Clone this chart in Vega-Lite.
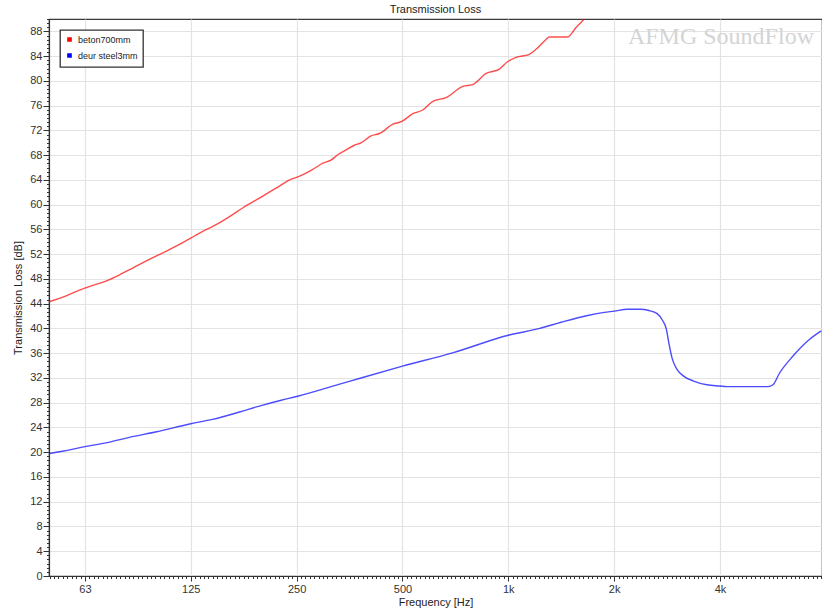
{
  "$schema": "https://vega.github.io/schema/vega-lite/v6.json",
  "width": 773,
  "height": 557,
  "autosize": {"type": "none"},
  "padding": {"left": 49, "top": 19, "right": 0, "bottom": 37},
  "background": "white",
  "title": {"text": "Transmission Loss", "font": "Liberation Sans", "fontSize": 11, "fontWeight": "normal", "color": "#222222", "anchor": "middle", "offset": 4},
  "config": {
    "view": {"stroke": "#3a3a3a", "strokeWidth": 1.2},
    "legend": {"strokeWidth": 1.3}
  },
  "datasets": {
    "tl": [
      {"series": "beton700mm", "f": 49.4, "db": 44.3},
      {"series": "beton700mm", "f": 55.5, "db": 45.3},
      {"series": "beton700mm", "f": 59.2, "db": 46.0},
      {"series": "beton700mm", "f": 64.6, "db": 46.8},
      {"series": "beton700mm", "f": 72.0, "db": 47.7},
      {"series": "beton700mm", "f": 78.6, "db": 48.7},
      {"series": "beton700mm", "f": 85.7, "db": 49.8},
      {"series": "beton700mm", "f": 95.6, "db": 51.2},
      {"series": "beton700mm", "f": 106.6, "db": 52.5},
      {"series": "beton700mm", "f": 118.9, "db": 53.9},
      {"series": "beton700mm", "f": 125, "db": 54.6},
      {"series": "beton700mm", "f": 138.6, "db": 56.0},
      {"series": "beton700mm", "f": 148, "db": 56.8},
      {"series": "beton700mm", "f": 161.5, "db": 58.1},
      {"series": "beton700mm", "f": 176, "db": 59.5},
      {"series": "beton700mm", "f": 196.5, "db": 61.1},
      {"series": "beton700mm", "f": 219, "db": 62.7},
      {"series": "beton700mm", "f": 239, "db": 64.0},
      {"series": "beton700mm", "f": 255, "db": 64.6},
      {"series": "beton700mm", "f": 278, "db": 65.7},
      {"series": "beton700mm", "f": 297, "db": 66.7},
      {"series": "beton700mm", "f": 313, "db": 67.2},
      {"series": "beton700mm", "f": 328, "db": 68.1},
      {"series": "beton700mm", "f": 342, "db": 68.7},
      {"series": "beton700mm", "f": 365, "db": 69.6},
      {"series": "beton700mm", "f": 381, "db": 70.0},
      {"series": "beton700mm", "f": 407, "db": 71.1},
      {"series": "beton700mm", "f": 430, "db": 71.5},
      {"series": "beton700mm", "f": 470, "db": 73.0},
      {"series": "beton700mm", "f": 496, "db": 73.4},
      {"series": "beton700mm", "f": 535, "db": 74.7},
      {"series": "beton700mm", "f": 571, "db": 75.3},
      {"series": "beton700mm", "f": 610, "db": 76.7},
      {"series": "beton700mm", "f": 665, "db": 77.3},
      {"series": "beton700mm", "f": 742, "db": 79.1},
      {"series": "beton700mm", "f": 792, "db": 79.4},
      {"series": "beton700mm", "f": 865, "db": 81.2},
      {"series": "beton700mm", "f": 943, "db": 81.9},
      {"series": "beton700mm", "f": 995, "db": 83.1},
      {"series": "beton700mm", "f": 1052, "db": 83.8},
      {"series": "beton700mm", "f": 1147, "db": 84.3},
      {"series": "beton700mm", "f": 1199, "db": 85.1},
      {"series": "beton700mm", "f": 1280, "db": 86.7},
      {"series": "beton700mm", "f": 1307, "db": 87.1},
      {"series": "beton700mm", "f": 1474, "db": 87.1},
      {"series": "beton700mm", "f": 1556, "db": 88.6},
      {"series": "beton700mm", "f": 1644, "db": 90.0},
      {"series": "beton700mm", "f": 1700, "db": 91.0},
      {"series": "deur steel3mm", "f": 49.4, "db": 19.8},
      {"series": "deur steel3mm", "f": 54.4, "db": 20.2},
      {"series": "deur steel3mm", "f": 62.5, "db": 20.9},
      {"series": "deur steel3mm", "f": 73, "db": 21.6},
      {"series": "deur steel3mm", "f": 83.6, "db": 22.4},
      {"series": "deur steel3mm", "f": 100, "db": 23.3},
      {"series": "deur steel3mm", "f": 125, "db": 24.6},
      {"series": "deur steel3mm", "f": 144, "db": 25.3},
      {"series": "deur steel3mm", "f": 172, "db": 26.5},
      {"series": "deur steel3mm", "f": 197, "db": 27.5},
      {"series": "deur steel3mm", "f": 226, "db": 28.4},
      {"series": "deur steel3mm", "f": 250, "db": 29.0},
      {"series": "deur steel3mm", "f": 355, "db": 31.5},
      {"series": "deur steel3mm", "f": 500, "db": 33.9},
      {"series": "deur steel3mm", "f": 698, "db": 36.1},
      {"series": "deur steel3mm", "f": 1000, "db": 38.9},
      {"series": "deur steel3mm", "f": 1228, "db": 40.0},
      {"series": "deur steel3mm", "f": 1414, "db": 41.0},
      {"series": "deur steel3mm", "f": 1682, "db": 42.1},
      {"series": "deur steel3mm", "f": 1874, "db": 42.6},
      {"series": "deur steel3mm", "f": 2000, "db": 42.8},
      {"series": "deur steel3mm", "f": 2181, "db": 43.1},
      {"series": "deur steel3mm", "f": 2378, "db": 43.1},
      {"series": "deur steel3mm", "f": 2510, "db": 42.9},
      {"series": "deur steel3mm", "f": 2650, "db": 42.4},
      {"series": "deur steel3mm", "f": 2738, "db": 41.4},
      {"series": "deur steel3mm", "f": 2817, "db": 39.8},
      {"series": "deur steel3mm", "f": 2860, "db": 37.7},
      {"series": "deur steel3mm", "f": 2922, "db": 35.2},
      {"series": "deur steel3mm", "f": 3018, "db": 33.4},
      {"series": "deur steel3mm", "f": 3151, "db": 32.3},
      {"series": "deur steel3mm", "f": 3364, "db": 31.5},
      {"series": "deur steel3mm", "f": 3668, "db": 30.9},
      {"series": "deur steel3mm", "f": 4000, "db": 30.7},
      {"series": "deur steel3mm", "f": 4177, "db": 30.6},
      {"series": "deur steel3mm", "f": 4757, "db": 30.6},
      {"series": "deur steel3mm", "f": 5476, "db": 30.6},
      {"series": "deur steel3mm", "f": 5657, "db": 30.9},
      {"series": "deur steel3mm", "f": 5908, "db": 32.8},
      {"series": "deur steel3mm", "f": 6443, "db": 35.5},
      {"series": "deur steel3mm", "f": 7180, "db": 38.2},
      {"series": "deur steel3mm", "f": 7760, "db": 39.6}
    ],
    "wm": [{"label": "AFMG SoundFlow"}]
  },
  "resolve": {"axis": {"x": "independent", "y": "independent"}},
  "layer": [
    {
      "data": {"name": "tl"},
      "mark": {"type": "line", "strokeWidth": 1.4, "opacity": 0.7, "clip": true, "interpolate": "monotone"},
      "encoding": {
        "x": {
          "field": "f", "type": "quantitative",
          "scale": {"type": "log", "domain": [49.4, 7800], "nice": false},
          "axis": {
            "orient": "bottom",
            "values": [62.5, 125, 250, 500, 1000, 2000, 4000],
            "labelExpr": "datum.value == 62.5 ? '63' : (datum.value >= 1000 ? (datum.value / 1000) + 'k' : datum.value + '')",
            "grid": true, "gridColor": "#e3e3e3", "gridWidth": 1.2,
            "domainColor": "#333333", "domainWidth": 1.2,
            "tickColor": "#333333", "tickSize": 5, "tickWidth": 1,
            "labelFont": "Liberation Sans", "labelFontSize": 11, "labelColor": "#333333", "labelPadding": 2, "labelFlush": false,
            "title": "Frequency [Hz]", "titleFont": "Liberation Sans", "titleFontSize": 11, "titleFontWeight": "normal", "titleColor": "#222222", "titlePadding": 2
          }
        },
        "y": {
          "field": "db", "type": "quantitative",
          "scale": {"domain": [0, 90], "nice": false, "zero": true},
          "axis": {
            "orient": "left",
            "values": [0, 4, 8, 12, 16, 20, 24, 28, 32, 36, 40, 44, 48, 52, 56, 60, 64, 68, 72, 76, 80, 84, 88],
            "grid": true, "gridColor": "#e3e3e3", "gridWidth": 1.2,
            "domainColor": "#333333", "domainWidth": 1.2,
            "tickColor": "#333333", "tickSize": 6, "tickWidth": 1,
            "labelFont": "Liberation Sans", "labelFontSize": 11, "labelColor": "#333333", "labelPadding": 1, "labelFlush": false,
            "title": "Transmission Loss [dB]", "titleFont": "Liberation Sans", "titleFontSize": 11, "titleFontWeight": "normal", "titleColor": "#222222", "titlePadding": 6
          }
        },
        "color": {
          "field": "series", "type": "nominal",
          "scale": {"domain": ["beton700mm", "deur steel3mm"], "range": ["#ff0000", "#0000ff"]},
          "legend": {
            "orient": "none", "legendX": 11, "legendY": 11, "title": null,
            "symbolType": "square", "symbolSize": 6, "symbolStrokeWidth": 2.2, "symbolOpacity": 1,
            "labelFont": "Liberation Sans", "labelFontSize": 9, "labelColor": "#222222", "labelOffset": 4,
            "padding": 5, "rowPadding": 3, "strokeColor": "#333333", "fillColor": "white"
          }
        }
      }
    },
    {
      "data": {"name": "wm"},
      "mark": {"type": "text", "font": "Liberation Serif", "fontSize": 24, "color": "#d4d4d4", "align": "right", "baseline": "alphabetic"},
      "encoding": {
        "text": {"field": "label"},
        "x": {
          "datum": 7400, "type": "quantitative",
          "axis": {
            "orient": "bottom", "title": null, "labels": false, "grid": false, "domain": false,
            "tickColor": "#333333", "tickSize": 2.5, "tickWidth": 1,
            "values": [49.61, 51.06, 52.56, 54.10, 55.68, 57.31, 58.99, 60.72,
              62.5, 64.33, 66.22, 68.16, 70.15, 72.21, 74.33, 76.50, 78.75, 81.05, 83.43, 85.87, 88.39, 90.98, 93.64, 96.39, 99.21, 102.12, 105.11, 108.19, 111.36, 114.63, 117.98, 121.44,
              125, 128.66, 132.43, 136.31, 140.31, 144.42, 148.65, 153.01, 157.49, 162.10, 166.86, 171.74, 176.78, 181.96, 187.29, 192.78, 198.43, 204.24, 210.22, 216.38, 222.72, 229.25, 235.97, 242.88,
              250, 257.33, 264.87, 272.63, 280.62, 288.84, 297.30, 306.02, 314.98, 324.21, 333.71, 343.49, 353.55, 363.91, 374.58, 385.55, 396.85, 408.48, 420.45, 432.77, 445.45, 458.50, 471.94, 485.77,
              500, 514.65, 529.73, 545.25, 561.23, 577.68, 594.60, 612.03, 629.96, 648.42, 667.42, 686.98, 707.11, 727.83, 749.15, 771.10, 793.70, 816.96, 840.90, 865.54, 890.90, 917.00, 943.87, 971.53,
              1000, 1029.3, 1059.46, 1090.51, 1122.46, 1155.35, 1189.21, 1224.06, 1259.92, 1296.84, 1334.84, 1373.95, 1414.21, 1455.65, 1498.31, 1542.21, 1587.40, 1633.92, 1681.79, 1731.07, 1781.80, 1834.01, 1887.75, 1943.06,
              2000, 2058.6, 2118.9, 2181.0, 2244.9, 2310.7, 2378.4, 2448.1, 2519.8, 2593.7, 2669.7, 2747.9, 2828.4, 2911.3, 2996.6, 3084.4, 3174.8, 3267.8, 3363.6, 3462.1, 3563.6, 3668.0, 3775.0, 3886.1,
              4000, 4117.2, 4237.8, 4362.0, 4489.8, 4621.4, 4756.8, 4896.2, 5039.7, 5187.4, 5339.4, 5495.8, 5656.9, 5822.6, 5993.2, 6168.8, 6349.6, 6535.7, 6727.2, 6924.3, 7127.2, 7336.0, 7550.0, 7772.2]
          }
        },
        "y": {
          "datum": 86.0, "type": "quantitative",
          "axis": {
            "orient": "left", "title": null, "labels": false, "grid": false, "domain": false,
            "tickColor": "#333333", "tickSize": 2.5, "tickWidth": 1,
            "values": [0,0.67,1.33,2,2.67,3.33,4,4.67,5.33,6,6.67,7.33,8,8.67,9.33,10,10.67,11.33,12,12.67,13.33,14,14.67,15.33,16,16.67,17.33,18,18.67,19.33,20,20.67,21.33,22,22.67,23.33,24,24.67,25.33,26,26.67,27.33,28,28.67,29.33,30,30.67,31.33,32,32.67,33.33,34,34.67,35.33,36,36.67,37.33,38,38.67,39.33,40,40.67,41.33,42,42.67,43.33,44,44.67,45.33,46,46.67,47.33,48,48.67,49.33,50,50.67,51.33,52,52.67,53.33,54,54.67,55.33,56,56.67,57.33,58,58.67,59.33,60,60.67,61.33,62,62.67,63.33,64,64.67,65.33,66,66.67,67.33,68,68.67,69.33,70,70.67,71.33,72,72.67,73.33,74,74.67,75.33,76,76.67,77.33,78,78.67,79.33,80,80.67,81.33,82,82.67,83.33,84,84.67,85.33,86,86.67,87.33,88,88.67,89.33,90]
          }
        }
      }
    }
  ]
}
